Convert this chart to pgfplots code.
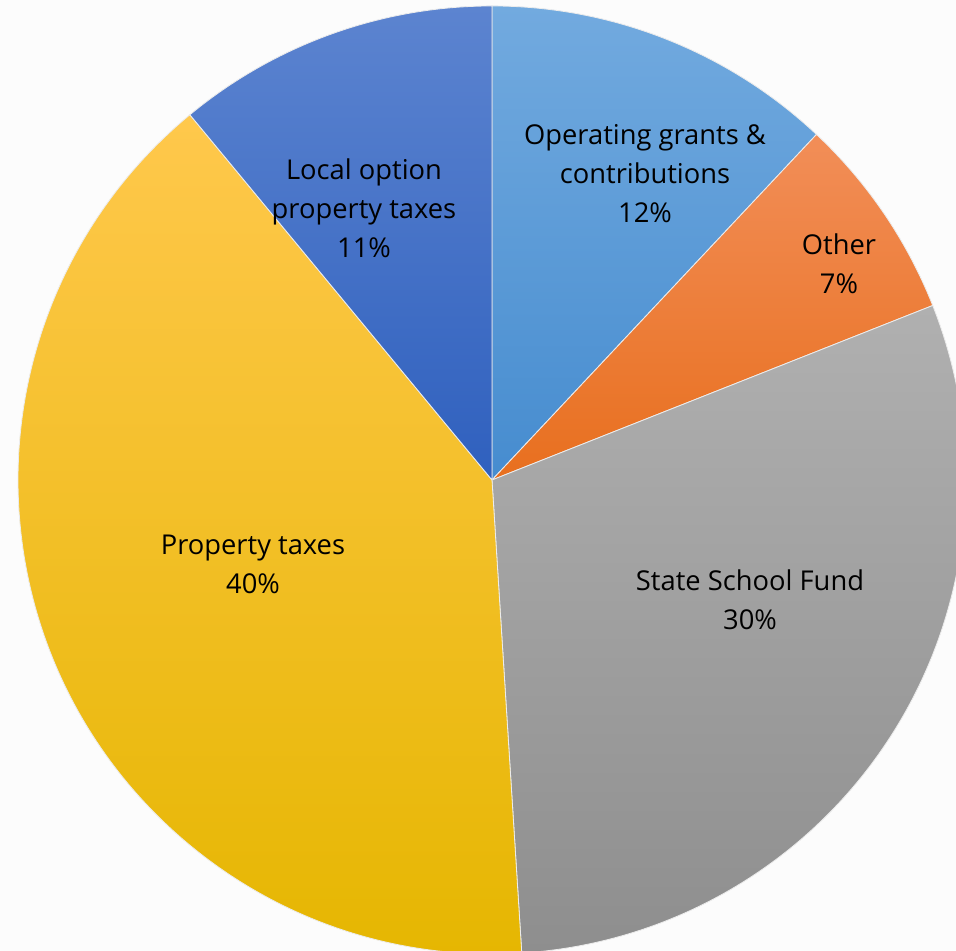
\documentclass[border=0pt]{standalone}
\usepackage{pgfplots}
\pgfplotsset{compat=1.18}
\usepackage{pgfplotstable}
\usepackage{fontspec}
\setmainfont{Open Sans}
\definecolor{opTop}{HTML}{72AADF}
\definecolor{opMid}{HTML}{5C9CD8}
\definecolor{opBot}{HTML}{468CCF}
\definecolor{otTop}{HTML}{F28E58}
\definecolor{otMid}{HTML}{F27E35}
\definecolor{otBot}{HTML}{E86F1E}
\definecolor{ssTop}{HTML}{B0B0B0}
\definecolor{ssMid}{HTML}{A5A5A5}
\definecolor{ssBot}{HTML}{8E8E8E}
\definecolor{ptTop}{HTML}{FFC84C}
\definecolor{ptMid}{HTML}{FFC300}
\definecolor{ptBot}{HTML}{E5B600}
\definecolor{loTop}{HTML}{5C84D0}
\definecolor{loMid}{HTML}{4873C8}
\definecolor{loBot}{HTML}{2F60BE}
\pgfplotstableread{
value ctop cmid cbot
12 opTop opMid opBot
7 otTop otMid otBot
30 ssTop ssMid ssBot
40 ptTop ptMid ptBot
11 loTop loMid loBot
}\piedata
\def\radius{173.54}
\begin{document}
\begin{tikzpicture}
\begin{axis}[x=0.36611pt,y=0.36611pt,xmin=-492,xmax=464,ymin=-471,ymax=480,
  hide axis, clip bounding box=upper bound]
\path[fill=white!99!black] (rel axis cs:0,0) rectangle (rel axis cs:1,1);
\pgfplotstablegetrowsof{\piedata}
\pgfmathtruncatemacro{\nrows}{\pgfplotsretval-1}
\def\cum{0}
\pgfplotsforeachungrouped \i in {0,...,\nrows}{%
  \pgfplotstablegetelem{\i}{value}\of{\piedata}\let\val\pgfplotsretval
  \pgfplotstablegetelem{\i}{ctop}\of{\piedata}\let\ct\pgfplotsretval
  \pgfplotstablegetelem{\i}{cmid}\of{\piedata}\let\cm\pgfplotsretval
  \pgfplotstablegetelem{\i}{cbot}\of{\piedata}\let\cb\pgfplotsretval
  \pgfmathsetmacro{\sa}{90-3.6*\cum}%
  \pgfmathsetmacro{\ea}{90-3.6*(\cum+\val)}%
  \pgfmathsetmacro{\cum}{\cum+\val}%
  \edef\temp{\noexpand\path[top color=\ct,middle color=\cm,bottom color=\cb,draw=white!85!gray,line width=0.3pt,line join=round]
    (axis cs:0,0) -- ++(\sa:\radius pt) arc[start angle=\sa,end angle=\ea,radius=\radius pt] -- cycle;}%
  \temp
}
\begin{scope}[every node/.style={align=center,font=\fontsize{10}{14.3}\selectfont,text=black}]
\node at (axis cs:153,306) {Operating grants \&\\contributions\\12\%};
\node at (axis cs:347,216) {Other\\7\%};
\node at (axis cs:258,-120) {State School Fund\\30\%};
\node at (axis cs:-239,-84) {Property taxes\\40\%};
\node at (axis cs:-128,272) {Local option\\property taxes\\11\%};
\end{scope}
\end{axis}
\end{tikzpicture}
\end{document}
